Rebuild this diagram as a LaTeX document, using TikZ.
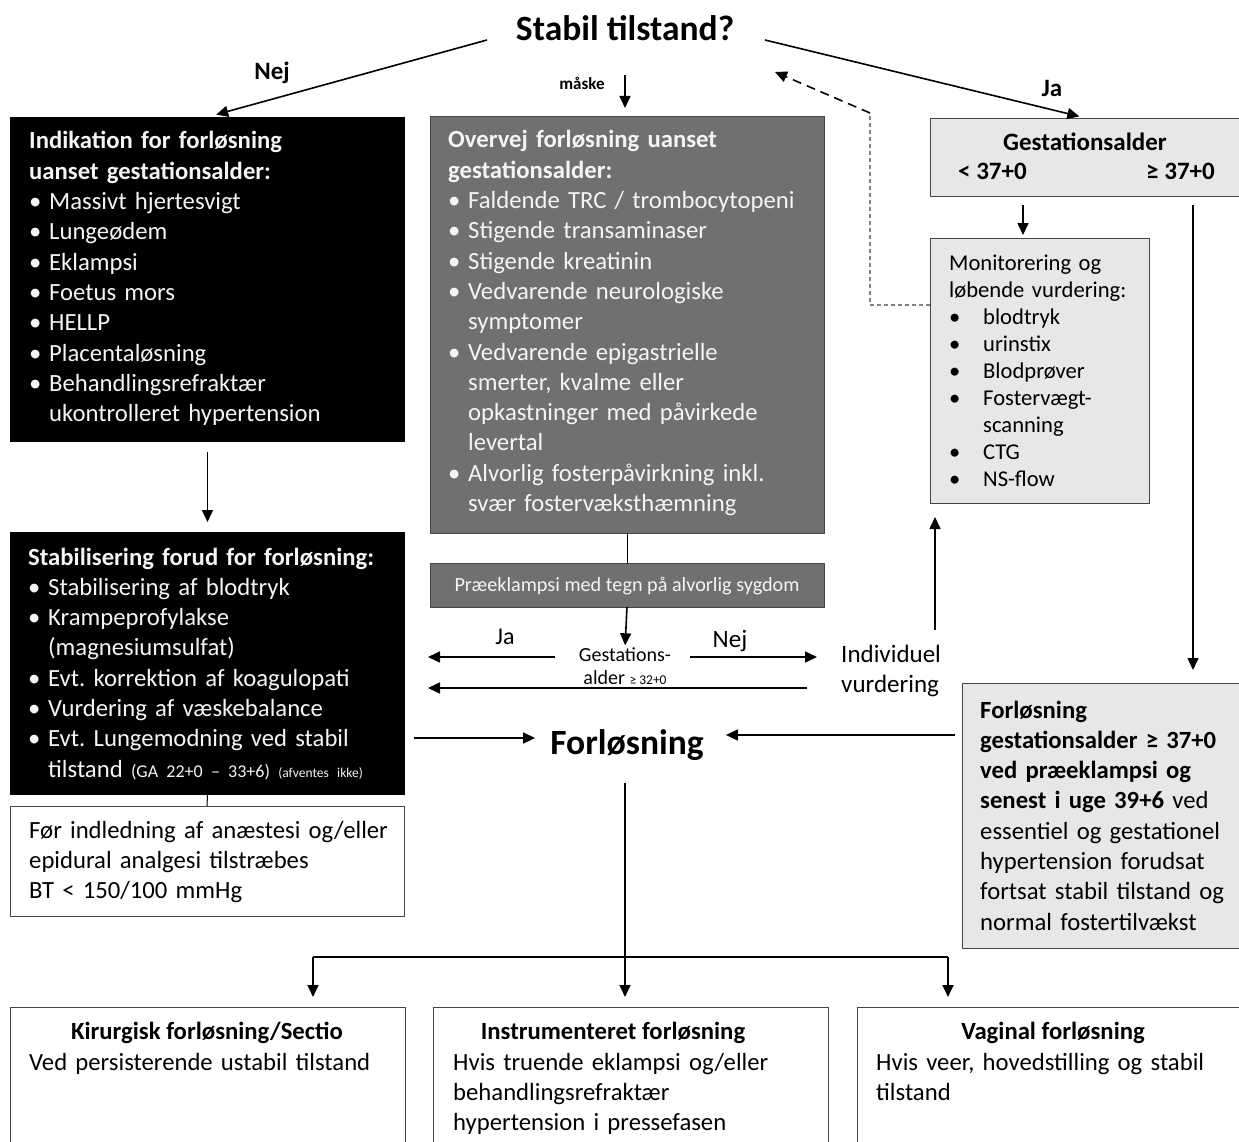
\documentclass[tikz,border=0pt]{standalone}
\usepackage{fontspec}
\setmainfont{Carlito}
\usetikzlibrary{arrows.meta}
\definecolor{dgrey}{RGB}{112,112,112}
\definecolor{lgrey}{RGB}{231,231,231}
\definecolor{bord}{RGB}{70,70,70}
\definecolor{wtxt}{RGB}{245,245,245}
\newcommand{\bli}[2][20pt]{\par\noindent\makebox[#1][l]{\textbullet}\parbox[t]{\dimexpr\linewidth-#1\relax}{\raggedright #2\par\xdef\mylastdp{\the\prevdepth}}\par\prevdepth=\mylastdp\relax}
\newcommand{\mli}[1]{\bli[34pt]{#1}}
\newcommand{\mbul}{\hspace*{5pt}}
\begin{document}
\begin{tikzpicture}[x=1pt,y=-1pt,
  arr/.style={line width=1.6pt,-{Triangle[length=12pt,width=11pt]}},
  ln/.style={line width=1.6pt},
  box/.style={anchor=north west,inner sep=0pt,outer sep=0pt},
  txt/.style={anchor=base west,inner sep=0pt,align=left,font=\fontsize{24.7}{30.3}\selectfont\frenchspacing},
  lbl/.style={inner sep=0pt,font=\frenchspacing},
]
\useasboundingbox (0,0) rectangle (1239,1142);

% boxes
\node[box,fill=black,minimum width=395pt,minimum height=325pt] (b1) at (10,117) {};
\node[box,fill=dgrey,draw=bord,line width=1pt,minimum width=394pt,minimum height=416pt] (gb) at (430,117) {};
\node[box,fill=lgrey,draw=bord,line width=1pt,minimum width=330pt,minimum height=78pt] (gest) at (930,119) {};
\node[box,fill=lgrey,draw=bord,line width=1pt,minimum width=219pt,minimum height=265pt] (mon) at (930,238) {};
\node[box,fill=black,minimum width=395pt,minimum height=263pt] (b2) at (10,532) {};
\node[box,draw=bord,line width=1pt,minimum width=394pt,minimum height=110pt] (wb) at (10,806) {};
\node[box,fill=dgrey,draw=bord,line width=1pt,minimum width=394pt,minimum height=44pt] (pre) at (430,563) {};
\node[box,fill=lgrey,draw=bord,line width=1pt,minimum width=300pt,minimum height=265pt] (r2) at (962,683) {};
\node[box,draw=bord,line width=1pt,minimum width=395pt,minimum height=160pt] (k1) at (10,1007) {};
\node[box,draw=bord,line width=1pt,minimum width=395pt,minimum height=160pt] (k2) at (433,1007) {};
\node[box,draw=bord,line width=1pt,minimum width=400pt,minimum height=160pt] (k3) at (857,1007) {};

% texts
\node[lbl,font=\bfseries\fontsize{35.5}{40}\selectfont] (title) at (625,28) {Stabil tilstand?};
\node[lbl,font=\bfseries\fontsize{25}{28}\selectfont] (nej1) at (272,73) {Nej};
\node[lbl,font=\bfseries\fontsize{25}{28}\selectfont] (ja1) at (1052,88) {Ja};
\node[lbl,font=\bfseries\fontsize{17}{20}\selectfont] (maske) at (582,83) {måske};

\node[txt,text=wtxt,text width=375pt] (b1t) at (29,149) {{\bfseries Indikation for forløsning\par uanset gestationsalder:}%
\bli{Massivt hjertesvigt}\bli{Lungeødem}\bli{Eklampsi}\bli{Foetus mors}\bli{HELLP}\bli{Placentaløsning}%
\bli{Behandlingsrefraktær\\ukontrolleret hypertension}};

\node[txt,text=wtxt,text width=375pt] (gbt) at (448,148) {{\bfseries Overvej forløsning uanset\par gestationsalder:}%
\bli{Faldende TRC / trombocytopeni}\bli{Stigende transaminaser}\bli{Stigende kreatinin}%
\bli{Vedvarende neurologiske\\symptomer}\bli{Vedvarende epigastrielle\\smerter, kvalme eller\\opkastninger med påvirkede\\levertal}%
\bli{Alvorlig fosterpåvirkning inkl.\\svær fostervæksthæmning}};

\node[lbl,font=\bfseries\fontsize{25}{30}\selectfont] (gestt) at (1085,142) {Gestationsalder};
\node[lbl,anchor=base west,font=\bfseries\fontsize{25}{30}\selectfont] (lt37) at (958,180) {< 37+0};
\node[lbl,anchor=base east,font=\bfseries\fontsize{25}{30}\selectfont] (ge37) at (1215,180) {≥ 37+0};

\node[txt,text width=215pt,font=\fontsize{22.6}{27.1}\selectfont\frenchspacing] (mont) at (949,270) {Monitorering og\par løbende vurdering:%
\bli[34pt]{blodtryk}\bli[34pt]{urinstix}\bli[34pt]{Blodprøver}\bli[34pt]{Fostervægt-\\scanning}\bli[34pt]{CTG}\bli[34pt]{NS-flow}};

\node[txt,text=wtxt,text width=380pt] (b2t) at (28,565) {{\bfseries Stabilisering forud for forløsning:}%
\bli{Stabilisering af blodtryk}\bli{Krampeprofylakse\\(magnesiumsulfat)}\bli{Evt. korrektion af koagulopati}%
\bli{Vurdering af væskebalance}\bli{Evt. Lungemodning ved stabil\\tilstand {\fontsize{18}{20}\selectfont(GA 22+0 – 33+6)} {\fontsize{13.5}{14}\selectfont(afventes ikke)}}};

\node[txt,text width=385pt] (wbt) at (29,838) {Før indledning af anæstesi og/eller\\epidural analgesi tilstræbes\\BT < 150/100 mmHg};

\node[lbl,text=wtxt,font=\fontsize{20.2}{24}\selectfont] (pret) at (627,586) {Præeklampsi med tegn på alvorlig sygdom};

\node[lbl,align=center,font=\fontsize{20}{23}\selectfont] (ga) at (625,666) {Gestations-\\alder {\fontsize{13.5}{14}\selectfont ≥ 32+0}};
\node[lbl,font=\fontsize{24}{26}\selectfont] (ja2) at (505,637) {Ja};
\node[lbl,font=\fontsize{25}{28}\selectfont] (nej2) at (730,641) {Nej};
\node[lbl,anchor=west,align=left,font=\fontsize{25}{30}\selectfont] (iv) at (841,671) {Individuel\\vurdering};

\node[lbl,font=\bfseries\fontsize{35.5}{40}\selectfont] (fl) at (627,745) {Forløsning};

\node[txt,text width=275pt] (r2t) at (980,718) {\textbf{Forløsning}\\\textbf{gestationsalder ≥ 37+0}\\\textbf{ved præeklampsi og}\\\textbf{senest i uge 39+6} ved\\essentiel og gestationel\\hypertension forudsat\\fortsat stabil tilstand og\\normal fostertilvækst};

\node[lbl,font=\bfseries\fontsize{24.7}{30}\selectfont] (k1h) at (207,1033) {Kirurgisk forløsning/Sectio};
\node[txt,text width=380pt] (k1t) at (29,1070) {Ved persisterende ustabil tilstand};
\node[lbl,font=\bfseries\fontsize{24.7}{30}\selectfont] (k2h) at (613,1033) {Instrumenteret forløsning};
\node[txt,text width=380pt] (k2t) at (453,1070) {Hvis truende eklampsi og/eller\\behandlingsrefraktær\\hypertension i pressefasen};
\node[lbl,font=\bfseries\fontsize{24.7}{30}\selectfont] (k3h) at (1053,1033) {Vaginal forløsning};
\node[txt,text width=370pt] (k3t) at (876,1070) {Hvis veer, hovedstilling og stabil\\tilstand};

% coordinates
\coordinate (nejS) at (487,40);
\coordinate (jaS) at (765,40);
\coordinate (mS) at (625,75);
\coordinate (dl) at (930,305);
\coordinate (dc) at (870,305);
\coordinate (dt) at (870,113);
\coordinate (dend) at (775,72);
\coordinate (lt) at (1023,197);
\coordinate (gt) at (1193,197);
\coordinate (jaA) at (555,657);
\coordinate (jaB) at (428,657);
\coordinate (nejA) at (690,657);
\coordinate (nejB) at (817,657);
\coordinate (lowA) at (807,688);
\coordinate (lowB) at (428,688);
\coordinate (ivup) at (935,630);
\coordinate (flin) at (414,738);
\coordinate (flr) at (955,735);
\coordinate (f1) at (313,957);
\coordinate (f2) at (625,957);
\coordinate (f3) at (948,957);

% connectors
\draw[arr,shorten >=9pt] (nejS) -- (b1.north);
\draw[arr,shorten >=11pt] (jaS) -- (gest.north -| 1090,0);
\draw[arr,shorten >=9pt] (mS) -- (mS |- gb.north);
\draw[gray,line width=1.2pt,dash pattern=on 4pt off 3pt] (dl) -- (dc) -- (dt);
\draw[arr,dash pattern=on 9pt off 6pt] (dt) -- (dend);
\draw[arr,shorten <=8pt,shorten >=3pt] (lt) -- (lt |- mon.north);
\draw[arr,shorten <=8pt,shorten >=13pt] (gt) -- (gt |- r2.north);
\draw[arr,shorten <=10pt,shorten >=10pt] (b1) -- (b2);
\draw[line width=1pt] (b2.south) -- (wb.north);
\draw[line width=1pt] (gb.south) -- (pre.north);
\draw[arr,shorten >=2pt] (pre.south) -- (ga.north);
\draw[arr] (jaA) -- (jaB);
\draw[arr] (nejA) -- (nejB);
\draw[arr] (lowA) -- (lowB);
\draw[arr,shorten >=14pt] (ivup) -- (ivup |- mon.south);
\draw[arr,shorten >=15pt] (flin) -- (fl.west |- flin);
\draw[arr,shorten >=22pt] (flr) -- (fl.east |- flr);
\draw[ln] (f1) -- (f3);
\draw[arr,shorten <=22pt,shorten >=10pt] (fl.south -| f2) -- (f2 |- k2.north);
\draw[arr,shorten >=10pt] (f1) -- (f1 |- k1.north);
\draw[arr,shorten >=10pt] (f3) -- (f3 |- k3.north);
\end{tikzpicture}
\end{document}
